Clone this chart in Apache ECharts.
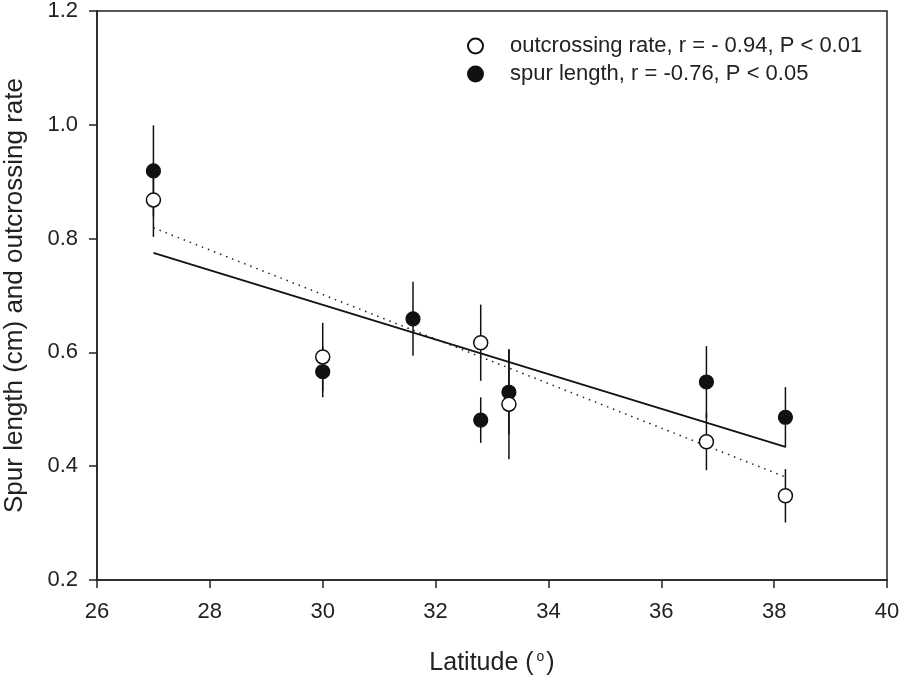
<!DOCTYPE html>
<html>
<head>
<meta charset="utf-8">
<script src="https://cdn.jsdelivr.net/npm/echarts@6/dist/echarts.min.js"></script>
<style>
html,body{margin:0;padding:0;background:#fff;}
#chart{width:903px;height:682px;}
</style>
</head>
<body>
<div id="chart"></div>
<script>
// Data
const latitudes = [27, 30, 32.8, 33.3, 36.8, 38.2];
const outcrossing = [0.868, 0.592, 0.617, 0.509, 0.443, 0.348];
const outcrossingErr = [0.065, 0.06, 0.067, 0.097, 0.05, 0.047];

const spurLat = [27, 30, 31.6, 32.8, 33.3, 36.8, 38.2];
const spurLength = [0.919, 0.566, 0.659, 0.481, 0.530, 0.548, 0.486];
const spurErr = [0.08, 0.045, 0.065, 0.04, 0.074, 0.063, 0.053];

const spurFit = [[27, 0.775], [38.2, 0.434]];
const outFit = [[27, 0.819], [38.2, 0.381]];

const xTicks = [26, 28, 30, 32, 34, 36, 38, 40];
const yTicks = [0.2, 0.4, 0.6, 0.8, 1.0, 1.2];

const outPts = latitudes.map((x, i) => [x, outcrossing[i]]);
const spurPts = spurLat.map((x, i) => [x, spurLength[i]]);
const outErrData = latitudes.map((x, i) => [x, outcrossing[i] - outcrossingErr[i], outcrossing[i] + outcrossingErr[i]]);
const spurErrData = spurLat.map((x, i) => [x, spurLength[i] - spurErr[i], spurLength[i] + spurErr[i]]);

function errRender(params, api) {
  const x = api.value(0);
  const p1 = api.coord([x, api.value(1)]);
  const p2 = api.coord([x, api.value(2)]);
  return {
    type: 'line',
    shape: {x1: p1[0], y1: p1[1], x2: p2[0], y2: p2[1]},
    style: {stroke: '#111', lineWidth: 1.5}
  };
}

const FONT = 'Liberation Sans, Arial, sans-serif';
const chart = echarts.init(document.getElementById('chart'));
chart.setOption({
  animation: false,
  backgroundColor: '#fff',
  textStyle: {fontFamily: FONT},
  grid: {left: 97, right: 16, top: 11, bottom: 102, containLabel: false, outerBoundsMode: 'none',
    show: true, borderColor: '#222', borderWidth: 1.5},
  legend: {
    left: 462, top: 30, orient: 'vertical', itemGap: 6, itemWidth: 15, itemHeight: 15,
    data: ['outcrossing rate, r = - 0.94, P < 0.01', 'spur length, r = -0.76, P < 0.05'],
    textStyle: {fontSize: 22, color: '#222', fontFamily: FONT, padding: [0, 0, 0, 22]}
  },
  xAxis: {
    type: 'value', min: xTicks[0], max: xTicks[xTicks.length - 1], interval: 2,
    name: 'Latitude ({sup|o})', nameLocation: 'middle', nameGap: 70,
    nameTextStyle: {fontSize: 25, color: '#222', fontFamily: FONT,
      rich: {sup: {fontSize: 14, verticalAlign: 'top', padding: [0, 2, 12, 3], color: '#222', fontFamily: FONT}}},
    splitLine: {show: false},
    axisLine: {lineStyle: {color: '#222', width: 1.5}},
    axisTick: {inside: false, length: 8, lineStyle: {color: '#222', width: 1.5}},
    axisLabel: {fontSize: 22, color: '#222', margin: 21, fontFamily: FONT}
  },
  yAxis: {
    type: 'value', min: yTicks[0], max: yTicks[yTicks.length - 1], interval: 0.2,
    name: 'Spur length (cm) and outcrossing rate', nameLocation: 'middle', nameGap: 69,
    nameTextStyle: {fontSize: 26, color: '#222', fontFamily: FONT},
    splitLine: {show: false},
    axisLine: {lineStyle: {color: '#222', width: 1.5}},
    axisTick: {inside: false, length: 8, lineStyle: {color: '#222', width: 1.5}},
    axisLabel: {fontSize: 22, color: '#222', margin: 19, fontFamily: FONT, formatter: v => v.toFixed(1)}
  },
  series: [
    {type: 'custom', renderItem: errRender, data: spurErrData, z: 1, silent: true},
    {type: 'custom', renderItem: errRender, data: outErrData, z: 1, silent: true},
    {type: 'line', data: spurFit, symbol: 'none', z: 2, lineStyle: {color: '#111', width: 1.8, type: 'solid'}, silent: true},
    {type: 'line', data: outFit, symbol: 'none', z: 2, lineStyle: {color: '#222', width: 1.5, type: [1.5, 5]}, silent: true},
    {name: 'spur length, r = -0.76, P < 0.05', type: 'scatter', data: spurPts, symbol: 'circle', symbolSize: 14, z: 3,
      itemStyle: {color: '#111', borderColor: '#111', borderWidth: 1.2, opacity: 1}},
    {name: 'outcrossing rate, r = - 0.94, P < 0.01', type: 'scatter', data: outPts, symbol: 'circle', symbolSize: 14, z: 4,
      itemStyle: {color: '#fff', borderColor: '#111', borderWidth: 1.5, opacity: 1}}
  ]
});
</script>
</body>
</html>
